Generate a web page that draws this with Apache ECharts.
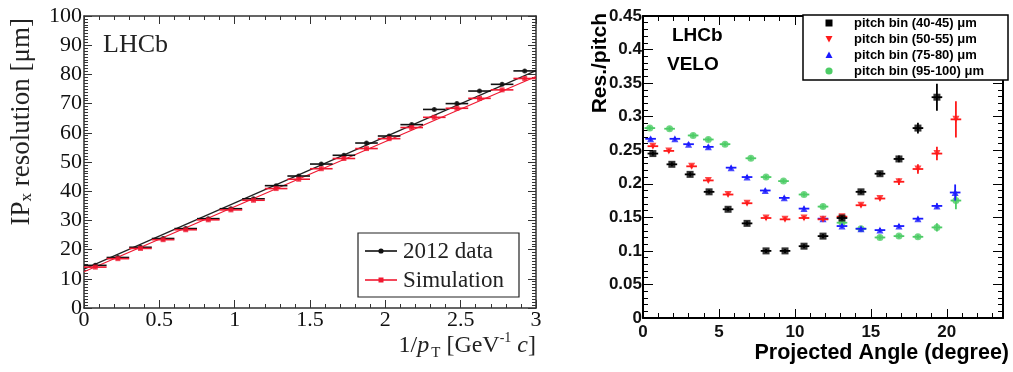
<!DOCTYPE html>
<html>
<head>
<meta charset="utf-8">
<script src="https://cdn.jsdelivr.net/npm/echarts@6/dist/echarts.min.js"></script>
<style>
html,body{margin:0;padding:0;background:#fff;}
#chart{width:1013px;height:372px;}
</style>
</head>
<body>
<div id="chart"></div>
<script>
// ---------- Left panel data ----------
const ptX = [0.075,0.225,0.375,0.525,0.675,0.825,0.975,1.125,1.275,1.425,1.575,1.725,1.875,2.025,2.175,2.325,2.475,2.625,2.775,2.925];
const data2012 = [14.6,17.3,20.8,23.8,27.2,30.6,34.0,37.4,41.9,45.2,49.3,52.3,56.5,58.9,62.8,68.0,70.0,74.3,76.6,81.2];
const dataSim  = [14.0,16.9,20.4,23.4,26.8,30.2,33.6,36.9,40.9,44.1,47.7,51.2,54.6,58.0,61.8,65.3,68.4,71.8,74.7,78.6];
const ptXErr = 0.075;
const err2012 = 0.6;
const errSim = 0.5;
const fit2012 = [[0,13.3],[3,81.3]];
const fitSim  = [[0,12.4],[3,79.3]];

// ---------- Right panel data ----------
const angBlack = [0.65,1.9,3.1,4.35,5.6,6.85,8.1,9.35,10.6,11.85,13.1,14.35,15.6,16.85,18.1,19.35];
const resBlack = [0.245,0.229,0.214,0.188,0.162,0.141,0.100,0.100,0.107,0.122,0.149,0.188,0.215,0.237,0.283,0.329];
const errBlack = [0.003,0.003,0.003,0.003,0.003,0.003,0.003,0.003,0.003,0.003,0.003,0.003,0.003,0.005,0.008,0.020];

const angRed = [0.65,1.7,3.2,4.3,5.6,6.85,8.1,9.35,10.6,11.85,13.1,14.35,15.6,16.85,18.1,19.35,20.6];
const resRed = [0.256,0.249,0.226,0.205,0.184,0.171,0.149,0.147,0.149,0.147,0.151,0.168,0.178,0.203,0.222,0.245,0.296];
const errRed = [0.003,0.003,0.003,0.003,0.003,0.003,0.003,0.003,0.003,0.003,0.003,0.003,0.003,0.005,0.007,0.010,0.027];

const angBlue = [0.5,2.1,3.0,4.3,5.8,6.85,8.05,9.3,10.6,11.85,13.1,14.35,15.6,16.85,18.1,19.35,20.55];
const resBlue = [0.267,0.267,0.259,0.255,0.224,0.210,0.190,0.179,0.163,0.148,0.137,0.133,0.131,0.137,0.148,0.167,0.187];
const errBlue = [0.003,0.003,0.003,0.003,0.003,0.003,0.003,0.003,0.003,0.003,0.003,0.003,0.003,0.003,0.003,0.004,0.012];

const angGreen = [0.45,1.75,3.3,4.3,5.4,7.1,8.1,9.25,10.6,11.85,13.1,14.35,15.6,16.85,18.1,19.35,20.6];
const resGreen = [0.283,0.282,0.272,0.266,0.259,0.238,0.210,0.204,0.184,0.166,0.142,0.133,0.120,0.122,0.121,0.135,0.175];
const errGreen = [0.003,0.003,0.003,0.003,0.003,0.003,0.003,0.003,0.003,0.003,0.003,0.003,0.003,0.003,0.003,0.006,0.013];
const angXErr = 0.35;

const legendRight = ['pitch bin (40-45) μm','pitch bin (50-55) μm','pitch bin (75-80) μm','pitch bin (95-100) μm'];

// ---------- helpers ----------
const serif = 'Liberation Serif';
const sans = 'Liberation Sans';
const cRed = '#ff1a1a', cBlue = '#1a1aff', cGreen = '#4dcc66';
const cLRed = '#f01830';

function errRender(color, lw){
  return function(params, api){
    const x = api.value(0), y = api.value(1), ex = api.value(2), ey = api.value(3);
    const a = api.coord([x-ex,y]), b = api.coord([x+ex,y]);
    const c = api.coord([x,y-ey]), d = api.coord([x,y+ey]);
    return {type:'group', children:[
      {type:'line', shape:{x1:a[0],y1:a[1],x2:b[0],y2:b[1]}, style:{stroke:color,lineWidth:lw}},
      {type:'line', shape:{x1:c[0],y1:c[1],x2:d[0],y2:d[1]}, style:{stroke:color,lineWidth:lw}}
    ]};
  };
}
function zip(xs, ys){ return xs.map((x,i)=>[x, ys[i]]); }
function zipErr(xs, ys, ex, ey){ return xs.map((x,i)=>[x, ys[i], ex, Array.isArray(ey)?ey[i]:ey]); }

function mkAxis(o){
  return {
    type:'value', gridIndex:o.grid, position:o.pos, min:o.min, max:o.max, interval:o.interval,
    splitLine:{show:false},
    axisLine:{show:true, onZero:false, lineStyle:{color:o.lineColor, width:o.lineWidth}},
    axisTick:{show:true, inside:true, length:o.tickLen, lineStyle:{color:o.lineColor, width:1}},
    minorTick:{show:true, splitNumber:o.minorSplit, length:o.minorLen, lineStyle:{color:o.lineColor, width:1}},
    axisLabel:{show:!!o.labels, margin:o.margin||2, fontFamily:o.font, fontSize:o.fontSize, fontWeight:o.fontWeight||'normal', color:'#111',
      formatter:o.formatter, showMinLabel:true, showMaxLabel:true}
  };
}

const chart = echarts.init(document.getElementById('chart'), null, {renderer:'canvas'});

const leftLine = '#333333';
const xAxes = [
  mkAxis({grid:0,pos:'bottom',min:0,max:3,interval:0.5,lineColor:leftLine,lineWidth:1.5,tickLen:8,minorSplit:5,minorLen:4,labels:true,font:serif,fontSize:22,margin:1,
    formatter:function(v){ return String(v); }}),
  mkAxis({grid:0,pos:'top',min:0,max:3,interval:0.5,lineColor:leftLine,lineWidth:1.5,tickLen:8,minorSplit:5,minorLen:4,labels:false}),
  mkAxis({grid:1,pos:'bottom',min:0,max:23.7,interval:5,lineColor:'#000',lineWidth:2,tickLen:9,minorSplit:5,minorLen:5,labels:true,font:sans,fontSize:17,fontWeight:'bold',margin:6,
    formatter:function(v){ return (Math.abs(v/5-Math.round(v/5))<1e-6) ? String(Math.round(v)) : ''; }}),
  mkAxis({grid:1,pos:'top',min:0,max:23.7,interval:5,lineColor:'#000',lineWidth:2,tickLen:9,minorSplit:5,minorLen:5,labels:false})
];
const yAxes = [
  mkAxis({grid:0,pos:'left',min:0,max:100,interval:10,lineColor:leftLine,lineWidth:1.5,tickLen:8,minorSplit:10,minorLen:4,labels:true,font:serif,fontSize:22,margin:2,
    formatter:function(v){ return String(v); }}),
  mkAxis({grid:0,pos:'right',min:0,max:100,interval:10,lineColor:leftLine,lineWidth:1.5,tickLen:8,minorSplit:10,minorLen:4,labels:false}),
  mkAxis({grid:1,pos:'left',min:0,max:0.45,interval:0.05,lineColor:'#000',lineWidth:2,tickLen:10,minorSplit:5,minorLen:5,labels:true,font:sans,fontSize:17,fontWeight:'bold',margin:1,
    formatter:function(v){ return String(Math.round(v*100)/100); }}),
  mkAxis({grid:1,pos:'right',min:0,max:0.45,interval:0.05,lineColor:'#000',lineWidth:2,tickLen:10,minorSplit:5,minorLen:5,labels:false})
];

const series = [
  {type:'line', xAxisIndex:0, yAxisIndex:0, data:fit2012, symbol:'none', lineStyle:{color:'#222',width:1.2}, silent:true, z:2},
  {type:'line', xAxisIndex:0, yAxisIndex:0, data:fitSim, symbol:'none', lineStyle:{color:cLRed,width:1.2}, silent:true, z:2},
  {type:'custom', xAxisIndex:0, yAxisIndex:0, data:zipErr(ptX,data2012,ptXErr,err2012), encode:{x:0,y:1}, renderItem:errRender('#111',1.6), z:3},
  {type:'scatter', xAxisIndex:0, yAxisIndex:0, data:zip(ptX,data2012), symbol:'circle', symbolSize:5, itemStyle:{color:'#111'}, z:4},
  {type:'custom', xAxisIndex:0, yAxisIndex:0, data:zipErr(ptX,dataSim,ptXErr,errSim), encode:{x:0,y:1}, renderItem:errRender(cLRed,1.6), z:5},
  {type:'scatter', xAxisIndex:0, yAxisIndex:0, data:zip(ptX,dataSim), symbol:'rect', symbolSize:5, itemStyle:{color:cLRed}, z:6},
  {type:'custom', xAxisIndex:2, yAxisIndex:2, data:zipErr(angGreen,resGreen,angXErr,errGreen), encode:{x:0,y:1}, renderItem:errRender(cGreen,1.8), z:3},
  {type:'scatter', xAxisIndex:2, yAxisIndex:2, data:zip(angGreen,resGreen), symbol:'circle', symbolSize:7, itemStyle:{color:cGreen}, z:4},
  {type:'custom', xAxisIndex:2, yAxisIndex:2, data:zipErr(angBlue,resBlue,angXErr,errBlue), encode:{x:0,y:1}, renderItem:errRender(cBlue,1.8), z:5},
  {type:'scatter', xAxisIndex:2, yAxisIndex:2, data:zip(angBlue,resBlue), symbol:'triangle', symbolSize:7, itemStyle:{color:cBlue}, z:6},
  {type:'custom', xAxisIndex:2, yAxisIndex:2, data:zipErr(angRed,resRed,angXErr,errRed), encode:{x:0,y:1}, renderItem:errRender(cRed,1.8), z:7},
  {type:'scatter', xAxisIndex:2, yAxisIndex:2, data:zip(angRed,resRed), symbol:'triangle', symbolRotate:180, symbolSize:7, itemStyle:{color:cRed}, z:8},
  {type:'custom', xAxisIndex:2, yAxisIndex:2, data:zipErr(angBlack,resBlack,angXErr,errBlack), encode:{x:0,y:1}, renderItem:errRender('#000',1.8), z:9},
  {type:'scatter', xAxisIndex:2, yAxisIndex:2, data:zip(angBlack,resBlack), symbol:'rect', symbolSize:7, itemStyle:{color:'#000'}, z:10}
];

const Z = 100;
const lgRowY = [23, 39, 55, 71];
const graphic = [
  {type:'text', x:22, y:18, rotation:Math.PI/2, z:Z,
    style:{text:'{n|IP}{s|x}{n| resolution [μm]}', textAlign:'right', textVerticalAlign:'middle', fill:'#222',
      rich:{n:{fontFamily:serif,fontSize:27,color:'#222'}, s:{fontFamily:serif,fontSize:17,color:'#222',verticalAlign:'bottom',padding:[10,0,0,0]}}}},
  {type:'text', x:536, y:346, z:Z,
    style:{text:'{n|1/}{i|p}{s|T}{n| [GeV}{u|-1}{n| }{i|c}{n|]}', textAlign:'right', textVerticalAlign:'middle', fill:'#222',
      rich:{n:{fontFamily:serif,fontSize:24,color:'#222'}, i:{fontFamily:serif,fontStyle:'italic',fontSize:24,color:'#222'},
        s:{fontFamily:serif,fontSize:15,color:'#222',verticalAlign:'bottom',padding:[15,0,0,2]},
        u:{fontFamily:serif,fontSize:14,color:'#222',verticalAlign:'top',padding:[0,0,8,0]}}}},
  {type:'text', x:103, y:45, z:Z, style:{text:'LHCb', font:'26px "Liberation Serif"', fill:'#222', textAlign:'left', textVerticalAlign:'middle'}},
  {type:'rect', z:Z, shape:{x:358,y:233,width:161,height:64}, style:{fill:'#fff',stroke:'#222',lineWidth:1.2}},
  {type:'line', z:Z+1, shape:{x1:365,y1:251,x2:397,y2:251}, style:{stroke:'#111',lineWidth:1.6}},
  {type:'circle', z:Z+2, shape:{cx:381,cy:251,r:2.6}, style:{fill:'#111'}},
  {type:'text', z:Z+1, x:403, y:252, style:{text:'2012 data', font:'23px "Liberation Serif"', fill:'#222', textAlign:'left', textVerticalAlign:'middle'}},
  {type:'line', z:Z+1, shape:{x1:365,y1:280,x2:397,y2:280}, style:{stroke:cLRed,lineWidth:1.6}},
  {type:'rect', z:Z+2, shape:{x:378.5,y:277.5,width:5,height:5}, style:{fill:cLRed}},
  {type:'text', z:Z+1, x:403, y:281, style:{text:'Simulation', font:'23px "Liberation Serif"', fill:'#222', textAlign:'left', textVerticalAlign:'middle'}},
  {type:'text', x:600, y:13, rotation:Math.PI/2, z:Z,
    style:{text:'Res./pitch', font:'bold 21px "Liberation Sans"', fill:'#000', textAlign:'right', textVerticalAlign:'middle'}},
  {type:'text', x:1009, y:353, z:Z,
    style:{text:'Projected Angle (degree)', font:'bold 21.5px "Liberation Sans"', fill:'#000', textAlign:'right', textVerticalAlign:'middle'}},
  {type:'text', x:672, y:36, z:Z, style:{text:'LHCb', font:'bold 19px "Liberation Sans"', fill:'#000', textAlign:'left', textVerticalAlign:'middle'}},
  {type:'text', x:667, y:65, z:Z, style:{text:'VELO', font:'bold 19px "Liberation Sans"', fill:'#000', textAlign:'left', textVerticalAlign:'middle'}},
  {type:'rect', z:Z, shape:{x:803,y:15,width:205,height:65}, style:{fill:'#fff',stroke:'#000',lineWidth:1.5}},
  {type:'rect', z:Z+1, shape:{x:825.5,y:lgRowY[0]-3.5,width:7,height:7}, style:{fill:'#000'}},
  {type:'polygon', z:Z+1, shape:{points:[[825.5,lgRowY[1]-3],[832.5,lgRowY[1]-3],[829,lgRowY[1]+3.5]]}, style:{fill:cRed}},
  {type:'polygon', z:Z+1, shape:{points:[[825.5,lgRowY[2]+3],[832.5,lgRowY[2]+3],[829,lgRowY[2]-3.5]]}, style:{fill:cBlue}},
  {type:'circle', z:Z+1, shape:{cx:829,cy:lgRowY[3],r:3.6}, style:{fill:cGreen}}
];
legendRight.forEach((t,i)=>{
  graphic.push({type:'text', z:Z+1, x:854, y:lgRowY[i], style:{text:t, font:'bold 13px "Liberation Sans"', fill:'#000', textAlign:'left', textVerticalAlign:'middle'}});
});

chart.setOption({
  animation:false,
  backgroundColor:'#fff',
  grid:[
    {left:84, top:16, width:452, height:292, containLabel:false},
    {left:643, top:16, width:360, height:302, containLabel:false}
  ],
  xAxis:xAxes,
  yAxis:yAxes,
  series:series,
  graphic:graphic
});
</script>
</body>
</html>
